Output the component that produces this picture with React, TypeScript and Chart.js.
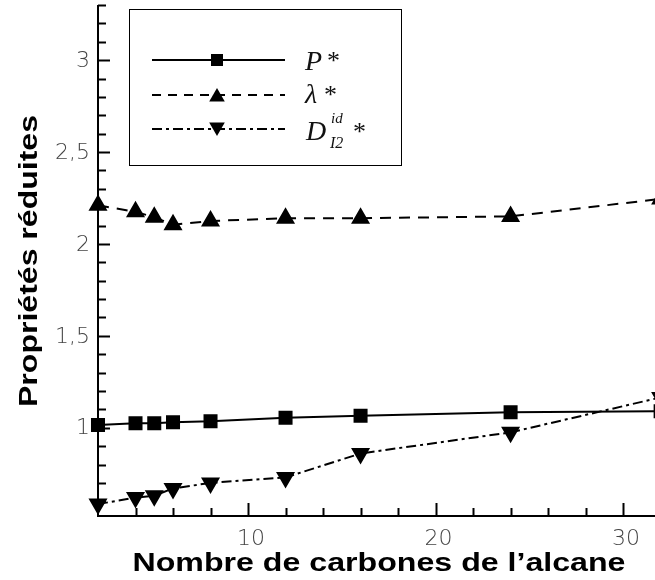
import React, { useEffect, useRef } from "react";
import { Chart, registerables } from "chart.js";

Chart.register(...registerables);

const carbons = [2, 4, 5, 6, 8, 12, 16, 24, 32];
const pStar = [1.015, 1.025, 1.025, 1.03, 1.035, 1.055, 1.065, 1.085, 1.09];
const lambdaStar = [2.21, 2.175, 2.145, 2.105, 2.125, 2.14, 2.14, 2.15, 2.245];
const dStar = [0.585, 0.62, 0.63, 0.67, 0.7, 0.73, 0.86, 0.975, 1.165];

const xMajorTicks = [10, 20, 30];
const xTickLabels = ["10", "20", "30"];
const yMajorTicks = [1, 1.5, 2, 2.5, 3];
const yTickLabels = ["1", "1,5", "2", "2,5", "3"];

const xTitle = "Nombre de carbones de l\u2019alcane";
const yTitle = "Propriétés réduites";

const X_MIN = 2;
const X_MAX = 31.7;
const Y_MIN = 0.52;
const Y_MAX = 3.3;
const X_MINOR_STEP = 2;
const Y_MINOR_STEP = 0.1;

function fitText(ctx: CanvasRenderingContext2D, text: string, x: number, y: number, width: number) {
  const w = ctx.measureText(text).width;
  ctx.save();
  ctx.translate(x, y);
  ctx.scale(width / w, 1);
  ctx.textAlign = "center";
  ctx.fillText(text, 0, 0);
  ctx.restore();
}

function drawSquare(ctx: CanvasRenderingContext2D, x: number, y: number, s: number) {
  ctx.fillRect(x - s / 2, y - s / 2, s, s);
}
function drawTri(ctx: CanvasRenderingContext2D, x: number, y: number, r: number, down: boolean) {
  const h = Math.sin(Math.PI / 3) * r;
  ctx.beginPath();
  if (!down) {
    ctx.moveTo(x, y - r);
    ctx.lineTo(x + h, y + r / 2);
    ctx.lineTo(x - h, y + r / 2);
  } else {
    ctx.moveTo(x, y + r);
    ctx.lineTo(x + h, y - r / 2);
    ctx.lineTo(x - h, y - r / 2);
  }
  ctx.closePath();
  ctx.fill();
}

const axesPlugin = {
  id: "axesPlugin",
  beforeDatasetsDraw(chart: any) {
    const ctx: CanvasRenderingContext2D = chart.ctx;
    const xs = chart.scales.x;
    const ys = chart.scales.y;
    const ca = chart.chartArea;
    ctx.save();
    ctx.strokeStyle = "#000";
    ctx.lineWidth = 2;
    ctx.beginPath();
    ctx.moveTo(ca.left, ca.top);
    ctx.lineTo(ca.left, ca.bottom);
    ctx.lineTo(chart.width, ca.bottom);
    ctx.stroke();
    for (let v = 0.6; v <= Y_MAX + 1e-6; v += Y_MINOR_STEP) {
      const vv = Math.round(v * 10) / 10;
      const py = Math.round(ys.getPixelForValue(vv)) + 0.5;
      const major = yMajorTicks.some((m) => Math.abs(m - vv) < 1e-6);
      ctx.beginPath();
      ctx.moveTo(ca.left, py);
      ctx.lineTo(ca.left + (major ? 12 : 8), py);
      ctx.stroke();
    }
    for (let v = 4; v <= X_MAX; v += X_MINOR_STEP) {
      const px = Math.round(xs.getPixelForValue(v)) + 0.5;
      const major = xMajorTicks.includes(v);
      ctx.beginPath();
      ctx.moveTo(px, ca.bottom);
      ctx.lineTo(px, ca.bottom - (major ? 13 : 8));
      ctx.stroke();
    }
    ctx.fillStyle = "#444";
    ctx.font = "200 22px 'DejaVu Sans', 'Liberation Sans', sans-serif";
    ctx.textAlign = "right";
    ctx.textBaseline = "middle";
    yMajorTicks.forEach((v, i) => {
      ctx.fillText(yTickLabels[i], 90, ys.getPixelForValue(v) + 1);
    });
    ctx.textAlign = "center";
    xMajorTicks.forEach((v, i) => {
      ctx.fillText(xTickLabels[i], xs.getPixelForValue(v) + 3, 539);
    });
    ctx.fillStyle = "#000";
    ctx.textBaseline = "alphabetic";
    ctx.font = "bold 26px 'Liberation Sans', Arial, sans-serif";
    fitText(ctx, xTitle, 379, 571, 493);
    ctx.save();
    ctx.translate(37, 261);
    ctx.rotate(-Math.PI / 2);
    fitText(ctx, yTitle, 0, 0, 292);
    ctx.restore();
    ctx.restore();
  },
  afterDraw(chart: any) {
    const ctx: CanvasRenderingContext2D = chart.ctx;
    ctx.save();
    ctx.fillStyle = "#fff";
    ctx.fillRect(129.5, 9.5, 272, 156);
    ctx.strokeStyle = "#000";
    ctx.lineWidth = 1;
    ctx.strokeRect(129.5, 9.5, 272, 156);
    const rows = [60, 95, 129];
    const dashes = [[], [9, 7], [10, 4, 3, 4]];
    ctx.lineWidth = 2;
    rows.forEach((y, i) => {
      ctx.setLineDash(dashes[i]);
      ctx.beginPath();
      ctx.moveTo(152, y);
      ctx.lineTo(285, y);
      ctx.stroke();
    });
    ctx.setLineDash([]);
    ctx.fillStyle = "#000";
    drawSquare(ctx, 217, 60, 12);
    drawTri(ctx, 217, 97, 9, false);
    drawTri(ctx, 217, 127, 9, true);
    const serif = "'Liberation Serif', 'DejaVu Serif', serif";
    ctx.textAlign = "left";
    ctx.textBaseline = "alphabetic";
    ctx.fillStyle = "#111";
    ctx.font = `italic 28px ${serif}`;
    ctx.fillText("P", 305, 70);
    ctx.fillText("\u03bb", 305, 103);
    ctx.fillText("D", 306, 140);
    ctx.font = `26px ${serif}`;
    ctx.fillText("*", 327, 69);
    ctx.fillText("*", 324, 103);
    ctx.fillText("*", 353, 140);
    ctx.font = `italic 15px ${serif}`;
    ctx.fillText("id", 331, 123);
    ctx.font = `italic 16px ${serif}`;
    ctx.fillText("I2", 330, 148);
    ctx.restore();
  },
};

function toPts(ys: number[]) {
  return carbons.map((c, i) => ({ x: c, y: ys[i] }));
}

export default function App() {
  const ref = useRef<HTMLCanvasElement>(null);
  useEffect(() => {
    if (!ref.current) return;
    const chart = new Chart(ref.current, {
      type: "line",
      data: {
        datasets: [
          {
            label: "P*",
            data: toPts(pStar),
            borderColor: "#000",
            backgroundColor: "#000",
            borderWidth: 2,
            pointStyle: "rect",
            pointRadius: 8.5,
            pointHoverRadius: 8.5,
            clip: false,
            tension: 0,
          },
          {
            label: "λ*",
            data: toPts(lambdaStar),
            borderColor: "#000",
            backgroundColor: "#000",
            borderWidth: 2,
            borderDash: [11, 8],
            pointStyle: "triangle",
            pointRadius: 9,
            clip: false,
            tension: 0,
          },
          {
            label: "D*",
            data: toPts(dStar),
            borderColor: "#000",
            backgroundColor: "#000",
            borderWidth: 2,
            borderDash: [10, 4, 3, 4],
            pointStyle: "triangle",
            pointRotation: 180,
            pointRadius: 9,
            clip: false,
            tension: 0,
          },
        ],
      },
      options: {
        animation: false,
        responsive: false,
        devicePixelRatio: 1,
        layout: { autoPadding: false, padding: { left: 98, right: 0, top: 5, bottom: 64 } },
        plugins: { legend: { display: false }, tooltip: { enabled: false } },
        events: [],
        scales: {
          x: { type: "linear", min: X_MIN, max: X_MAX, display: false },
          y: { type: "linear", min: Y_MIN, max: Y_MAX, display: false },
        },
      },
      plugins: [axesPlugin],
    });
    return () => chart.destroy();
  }, []);
  return (
    <div style={{ position: "fixed", left: 0, top: 0, width: 655, height: 580, background: "#fff" }}>
      <canvas ref={ref} width={655} height={580} style={{ display: "block" }} />
    </div>
  );
}
